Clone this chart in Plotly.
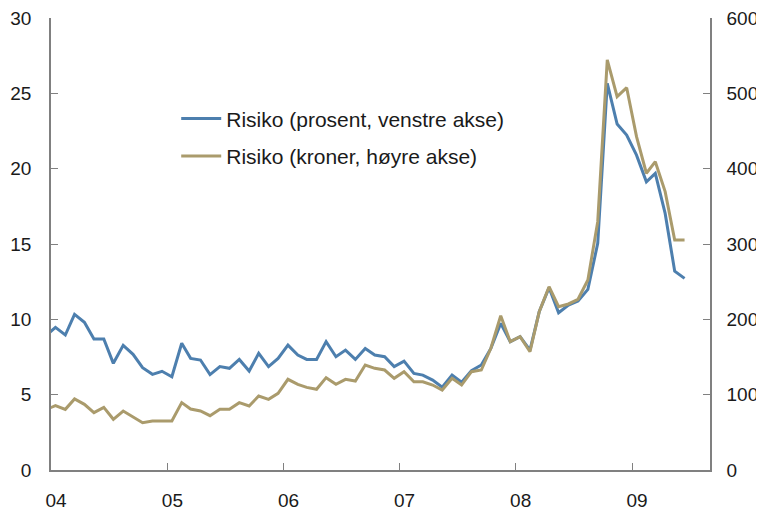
import plotly.graph_objects as go
import pandas as pd

dates = pd.date_range("2003-12-01", "2009-06-01", freq="MS") + pd.Timedelta(days=14)

risiko_prosent = [
    8.9,
    9.47, 8.96, 10.33, 9.80, 8.69, 8.69, 7.08, 8.27, 7.68, 6.79, 6.35, 6.55,
    6.19, 8.41, 7.41, 7.30, 6.33, 6.86, 6.75, 7.34, 6.57, 7.74, 6.86, 7.41,
    8.29, 7.63, 7.34, 7.34, 8.52, 7.52, 7.96, 7.34, 8.07, 7.63, 7.52, 6.86,
    7.23, 6.41, 6.30, 5.97, 5.49, 6.30, 5.82, 6.59, 6.97, 8.07, 9.73, 8.52,
    8.85, 7.96, 10.5, 12.1, 10.44, 10.95, 11.21, 11.99, 15.04, 25.66, 22.96, 22.23,
    20.9, 19.13, 19.69, 17.03, 13.2, 12.72,
]

risiko_kroner = [
    80,
    85.4, 80.5, 94.3, 87.2, 76.1, 83.2, 67.3, 78.3, 70.8, 62.8, 65, 65,
    65, 89.4, 81, 78.3, 72.1, 80.5, 80.5, 89.4, 85, 98.2, 93.8, 101.8,
    120.4, 113.7, 109.7, 107.1, 122.6, 113.7, 120.4, 118.1, 139.4, 135, 132.7, 121.7,
    130.5, 117.2, 117.2, 112.8, 106.2, 121.7, 112.8, 130.5, 132.7, 161.6, 204.8, 170.3,
    177, 157, 210, 243.3, 216.8, 220.4, 226.6, 252.2, 329.6, 544.3, 495.6, 507.5,
    442.5, 393.9, 409.3, 369.5, 305.3, 305.3,
]

left_ticks = [0, 5, 10, 15, 20, 25, 30]
right_ticks = [0, 100, 200, 300, 400, 500, 600]

BLUE = "#4d7fae"
GOLD = "#aa9b6c"
AXIS = "#808080"
FONT = "Liberation Sans"

fig = go.Figure()
fig.add_trace(go.Scatter(
    x=dates, y=risiko_prosent, mode="lines", name="Risiko (prosent, venstre akse)",
    line=dict(color=BLUE, width=3), legendgroup="a",
))
fig.add_trace(go.Scatter(
    x=dates, y=risiko_kroner, mode="lines", name="Risiko (kroner, høyre akse)",
    line=dict(color=GOLD, width=3), yaxis="y2", legendgroup="b",
))

fig.update_layout(
    width=756, height=506,
    margin=dict(l=43, r=54, t=10, b=44, autoexpand=False),
    paper_bgcolor="white", plot_bgcolor="white",
    font=dict(family=FONT, size=19, color="#1a1a1a"),
    showlegend=True,
    legend=dict(
        x=0.19, y=0.822, xanchor="left", yanchor="top",
        font=dict(size=21, color="#1a1a1a"), bgcolor="rgba(0,0,0,0)",
        tracegroupgap=7, itemwidth=40,
    ),
    xaxis=dict(
        type="date", range=["2004-01-01", "2009-09-03"],
        tick0="2004-01-01", dtick="M12", tickformat="%y",
        ticks="inside", ticklen=7, tickcolor=AXIS, tickwidth=1.2,
        showline=True, linecolor=AXIS, linewidth=1.5,
        showgrid=False, zeroline=False, ticklabelstandoff=12,
        ticklabelshift=5, automargin=False, ticklabeloverflow="allow",
    ),
    yaxis=dict(
        range=[0, 30], tickvals=left_ticks,
        ticks="inside", ticklen=7, tickcolor=AXIS, tickwidth=1.2,
        showline=True, linecolor=AXIS, linewidth=1.5,
        showgrid=False, zeroline=False, ticklabelstandoff=14, automargin=False,
        ticklabeloverflow="allow",
    ),
    yaxis2=dict(
        range=[0, 600], tickvals=right_ticks, overlaying="y", side="right",
        ticks="inside", ticklen=7, tickcolor=AXIS, tickwidth=1.2,
        showline=True, linecolor=AXIS, linewidth=1.5,
        showgrid=False, zeroline=False, ticklabelstandoff=11, automargin=False,
        ticklabeloverflow="allow",
    ),
)

fig.write_html("out.html")
